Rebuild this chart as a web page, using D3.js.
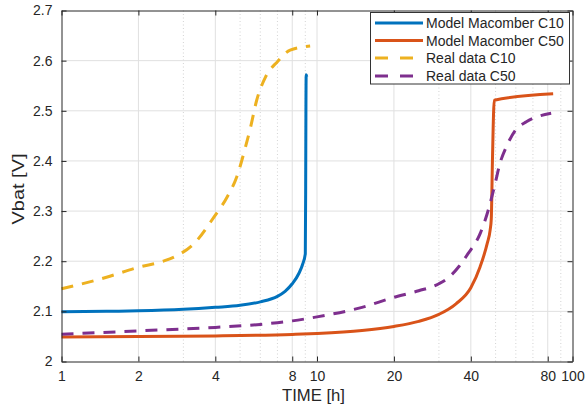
<!DOCTYPE html>
<html><head><meta charset="utf-8">
<script src="https://cdn.jsdelivr.net/npm/d3@7"></script>
<style>body{margin:0;background:#fff}svg{display:block;font-family:"Liberation Sans",Arial,sans-serif}</style>
</head><body><svg id="c" width="587" height="406"></svg>
<script>
// ---- data ----
const xTicks = [1,2,4,8,10,20,40,80,100];
const xMinorGrid = [3,5,6,7,9,30,50,60,70,90];
const yTicks = [2,2.1,2.2,2.3,2.4,2.5,2.6,2.7];

const tModelC10 = [1,1.5,2,3,4,5,6,7,7.5,8,8.5,8.8,9.0,9.03,9.05,9.07,9.12];
const vModelC10 = [2.099,2.100,2.101,2.104,2.108,2.112,2.119,2.130,2.140,2.155,2.176,2.195,2.215,2.35,2.50,2.572,2.568];

const tModelC50 = [1,2,4,8,10,15,20,25,30,35,40,43.5,46.4,47.6,48.1,48.6,49.4,84];
const vModelC50 = [2.049,2.050,2.051,2.054,2.056,2.062,2.070,2.080,2.094,2.115,2.147,2.189,2.236,2.262,2.285,2.40,2.521,2.534];

const tRealC10 = [1,1.5,2,2.5,2.8,3.3,3.95,4.45,4.85,5.25,5.5,5.8,6.3,7.0,7.85,9.4];
const vRealC10 = [2.145,2.168,2.188,2.200,2.210,2.235,2.288,2.328,2.368,2.428,2.468,2.52,2.568,2.598,2.621,2.629];

const tRealC50 = [1,2,4,6,8,10,15,20,25,30,33,36,39,43.5,47,49.8,52,55.4,59.7,66,72.6,82.5];
const vRealC50 = [2.0545,2.061,2.068,2.074,2.081,2.089,2.108,2.128,2.141,2.155,2.169,2.19,2.215,2.255,2.305,2.355,2.395,2.431,2.461,2.478,2.488,2.495];

const seriesNames = ["Model Macomber C10","Model Macomber C50","Real data C10","Real data C50"];

(function(){
// ---- layout ----
const L = 61.5, R = 572.5, T = 10.5, B = 361.5;
const x = d3.scaleLog().domain([1,100]).range([L,R]);
const y = d3.scaleLinear().domain([2,2.7]).range([B,T]);
const svg = d3.select("#c");
const axisCol = "#262626";

// grid
const g = svg.append("g");
g.selectAll(".mx").data(xMinorGrid).join("line")
  .attr("x1",d=>x(d)).attr("x2",d=>x(d)).attr("y1",T).attr("y2",B)
  .attr("stroke","#c8c8c8").attr("stroke-width",0.8).attr("stroke-dasharray","1,2.5");
g.selectAll(".gx").data(xTicks.slice(1,-1)).join("line")
  .attr("x1",d=>x(d)).attr("x2",d=>x(d)).attr("y1",T).attr("y2",B)
  .attr("stroke","#e0e0e0").attr("stroke-width",1);
g.selectAll(".gy").data(yTicks.slice(1,-1)).join("line")
  .attr("x1",L).attr("x2",R).attr("y1",d=>y(d)).attr("y2",d=>y(d))
  .attr("stroke","#e0e0e0").attr("stroke-width",1);

// series
const series = [
  {t:tModelC10, v:vModelC10, color:"#0072BD", dash:null},
  {t:tModelC50, v:vModelC50, color:"#D95319", dash:null},
  {t:tRealC10, v:vRealC10, color:"#EDB120", dash:"12,9"},
  {t:tRealC50, v:vRealC50, color:"#7E2F8E", dash:"12,9"}
];
const line = d3.line().x(d=>x(d[0])).y(d=>y(d[1])).curve(d3.curveMonotoneX);
series.forEach(s=>{
  svg.append("path").datum(s.t.map((t,i)=>[t,s.v[i]]))
    .attr("d",line).attr("fill","none").attr("stroke",s.color)
    .attr("stroke-width",3).attr("stroke-dasharray",s.dash);
});

// axes (box, inward ticks)
const tl = 5;
const axB = d3.axisBottom(x).tickValues(xTicks).tickFormat(d3.format("d")).tickSizeInner(-tl).tickSizeOuter(0).tickPadding(10);
const axT = d3.axisTop(x).tickValues(xTicks).tickFormat("").tickSizeInner(-tl).tickSizeOuter(0);
const axL = d3.axisLeft(y).tickValues(yTicks).tickFormat(d=>String(+d.toFixed(1))).tickSizeInner(-tl).tickSizeOuter(0).tickPadding(9);
const axR = d3.axisRight(y).tickValues(yTicks).tickFormat("").tickSizeInner(-tl).tickSizeOuter(0);
function style(sel){
  sel.selectAll("path,line").attr("stroke",axisCol);
  sel.selectAll("text").attr("fill",axisCol).style("font-size","14px").style("font-family","'Liberation Sans',Arial,sans-serif");
}
svg.append("g").attr("transform",`translate(0,${B})`).call(axB).call(style);
svg.append("g").attr("transform",`translate(0,${T})`).call(axT).call(style);
svg.append("g").attr("transform",`translate(${L},0)`).call(axL).call(style);
svg.append("g").attr("transform",`translate(${R},0)`).call(axR).call(style);

// axis titles
svg.append("text").attr("x",313.5).attr("y",400.5).attr("text-anchor","middle")
  .attr("fill",axisCol).style("font-size","16px")
  .attr("textLength",63).attr("lengthAdjust","spacingAndGlyphs").text("TIME [h]");
svg.append("text").attr("transform",`translate(24,189) rotate(-90)`).attr("text-anchor","middle")
  .attr("fill",axisCol).style("font-size","16px")
  .attr("textLength",71).attr("lengthAdjust","spacingAndGlyphs").text("Vbat [V]");

// legend
const lg = svg.append("g");
lg.append("rect").attr("x",370.5).attr("y",12.5).attr("width",199).attr("height",71.5)
  .attr("fill","#fff").attr("stroke","#333").attr("stroke-width",1);
const rowY = [23,40.5,58,76];
series.forEach((s,i)=>{
  lg.append("line").attr("x1",375).attr("x2",423).attr("y1",rowY[i]).attr("y2",rowY[i])
    .attr("stroke",s.color).attr("stroke-width",3).attr("stroke-dasharray",s.dash?"13,12":null);
  lg.append("text").attr("x",426).attr("y",rowY[i]).attr("dy","0.36em")
    .attr("fill",axisCol).style("font-size","14px").text(seriesNames[i]);
});
})();
</script></body></html>
